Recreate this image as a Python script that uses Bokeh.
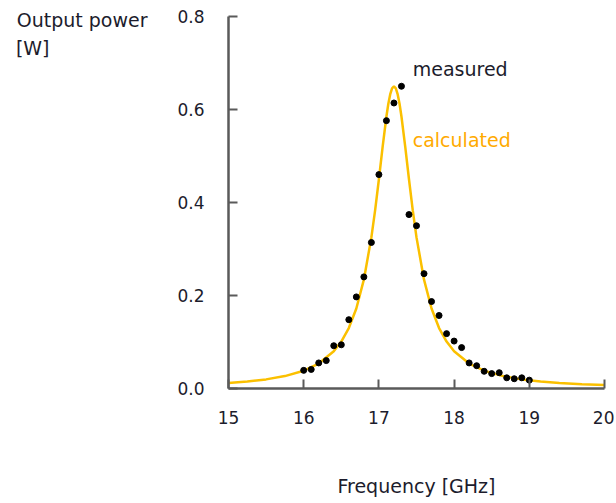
from bokeh.plotting import figure
from bokeh.models import Range1d, FixedTicker, Label, LinearAxis
from bokeh.embed import file_html
from bokeh.resources import INLINE

# measured points (frequency GHz, output power W)
meas_freq = [16.0, 16.1, 16.2, 16.3, 16.4, 16.5, 16.6, 16.7, 16.8, 16.9, 17.0,
             17.1, 17.2, 17.3, 17.4, 17.5, 17.6, 17.7, 17.8, 17.9, 18.0,
             18.1, 18.2, 18.3, 18.4, 18.5, 18.6, 18.7, 18.8, 18.9, 19.0]
meas_power = [0.039, 0.041, 0.055, 0.060, 0.092, 0.094, 0.148, 0.197, 0.240, 0.314, 0.460,
              0.576, 0.614, 0.650, 0.374, 0.350, 0.247, 0.187, 0.157, 0.118, 0.102,
              0.088, 0.055, 0.049, 0.037, 0.032, 0.034, 0.023, 0.021, 0.023, 0.018]

# calculated curve
calc_freq = [15.0, 15.25, 15.5, 15.75, 16.0, 16.2, 16.4, 16.5, 16.6, 16.7, 16.8, 16.9,
             16.95, 17.0, 17.05, 17.1, 17.125, 17.15, 17.175, 17.2, 17.225, 17.25,
             17.275, 17.3, 17.35, 17.4, 17.45, 17.5, 17.6, 17.7, 17.8, 17.9, 18.0,
             18.2, 18.4, 18.65, 18.9, 19.15, 19.4, 19.7, 20.0]
calc_power = [0.0119, 0.0150, 0.0196, 0.0267, 0.0382, 0.0537, 0.0801, 0.1009, 0.130, 0.172,
              0.234, 0.325, 0.3836, 0.450, 0.520, 0.585, 0.6118, 0.6324, 0.6455, 0.650,
              0.6455, 0.6324, 0.6118, 0.585, 0.520, 0.450, 0.3836, 0.325, 0.234, 0.172,
              0.130, 0.1009, 0.0801, 0.0537, 0.0382, 0.0267, 0.0196, 0.0150, 0.0119,
              0.0092, 0.0074]

x_ticks = [15, 16, 17, 18, 19, 20]
y_ticks = [0.0, 0.2, 0.4, 0.6, 0.8]
y_tick_labels = ["0.0", "0.2", "0.4", "0.6", "0.8"]
y_title_lines = ["Output power", "[W]"]

FONT = "DejaVu Sans"
TXT = "#1c1c2c"
CURVE = "#FBC000"
CALC_TXT = "#FFAA00"
AXIS = "#5a5a5a"

p = figure(width=614, height=501, output_backend="svg", toolbar_location=None,
           x_range=Range1d(15, 20), y_range=Range1d(0, 0.8),
           min_border_left=228, min_border_right=10, min_border_top=16, min_border_bottom=113)
p.outline_line_color = None
p.grid.visible = False
p.background_fill_color = "white"
p.border_fill_color = "white"

p.line(calc_freq, calc_power, line_color=CURVE, line_width=2.5)
p.scatter(meas_freq, meas_power, size=6, color="black", marker="circle")

for ax in (p.xaxis[0], p.yaxis[0]):
    ax.axis_line_color = AXIS
    ax.axis_line_width = 2.5
    ax.major_tick_line_color = AXIS
    ax.major_tick_line_width = 2
    ax.major_tick_in = 9
    ax.major_tick_out = 0
    ax.minor_tick_line_color = None
    ax.major_label_text_font = FONT
    ax.major_label_text_font_size = "17px"
    ax.major_label_text_color = TXT

p.xaxis.ticker = FixedTicker(ticks=x_ticks)
p.yaxis.ticker = FixedTicker(ticks=y_ticks)
p.yaxis.major_label_overrides = {t: l for t, l in zip(y_ticks, y_tick_labels)}
p.xaxis.major_label_standoff = 22
p.yaxis.major_label_standoff = 24

p.xaxis.axis_label = "Frequency [GHz]"
p.xaxis.axis_label_text_font = FONT
p.xaxis.axis_label_text_font_size = "19px"
p.xaxis.axis_label_text_font_style = "normal"
p.xaxis.axis_label_text_color = TXT
p.xaxis.axis_label_standoff = 48

# y-axis title: two lines, each carried as the single label of a bare helper axis
for txt, ypos, standoff in ((y_title_lines[0], 0.7935, 27), (y_title_lines[1], 0.7333, -36)):
    ax = LinearAxis(ticker=FixedTicker(ticks=[ypos]),
                    major_label_overrides={ypos: txt},
                    axis_line_color=None, major_tick_line_color=None,
                    minor_tick_line_color=None, major_tick_in=0, major_tick_out=0,
                    minor_tick_in=0, minor_tick_out=0)
    ax.major_label_text_font = FONT
    ax.major_label_text_font_size = "19px"
    ax.major_label_text_color = TXT
    ax.major_label_standoff = standoff
    p.add_layout(ax, "left")

p.add_layout(Label(x=17.45, y=0.688, text="measured", text_font=FONT,
                   text_font_size="19px", text_color=TXT, text_baseline="middle"))
p.add_layout(Label(x=17.45, y=0.535, text="calculated", text_font=FONT,
                   text_font_size="19px", text_color=CALC_TXT, text_baseline="middle"))

open("out.html", "w").write(file_html(p, INLINE))
